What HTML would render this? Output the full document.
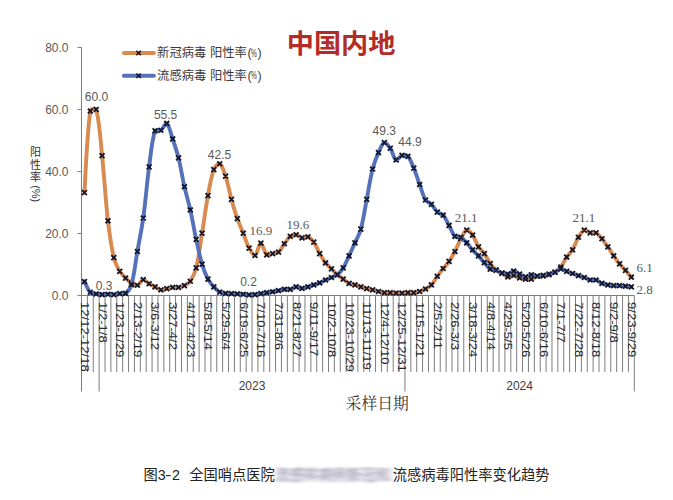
<!DOCTYPE html>
<html><head><meta charset="utf-8"><title>chart</title>
<style>
html,body{margin:0;padding:0;background:#fff;}
body{width:673px;height:500px;overflow:hidden;position:relative;}
svg{position:absolute;left:0;top:0;}
.cap{position:absolute;left:143.6px;top:463px;font:14.25px "Liberation Sans","Noto Sans CJK SC",sans-serif;color:#222;white-space:nowrap;letter-spacing:0px;}
.blur{display:inline-block;width:118px;overflow:visible;filter:url(#hb);color:#7c7494;letter-spacing:0.3px;white-space:nowrap;}
</style></head><body>
<svg width="673" height="500" viewBox="0 0 673 500">
<text x="286.8" y="52.6" font-family="Liberation Sans, Noto Sans CJK SC, sans-serif" font-weight="bold" font-size="26.5" fill="#B42C28" textLength="108.6" lengthAdjust="spacingAndGlyphs">中国内地</text>
<line x1="123.9" y1="53.0" x2="153.9" y2="53.0" stroke="#D98A50" stroke-width="3.9" stroke-linecap="round"/>
<path d="M136.4 50.8L140.8 55.2M136.4 55.2L140.8 50.8" stroke="#14162a" stroke-width="1.6" fill="none"/>
<text x="157.1" y="57.4" font-family="Liberation Sans, Noto Sans CJK SC, sans-serif" font-size="12.3" fill="#3a3a3a">新冠病毒<tspan dx="3.6">阳性率</tspan></text>
<text x="247.4" y="56.7" font-family="Liberation Sans, sans-serif" font-size="12.3" fill="#3a3a3a">(</text><text x="257.6" y="56.7" font-family="Liberation Sans, sans-serif" font-size="12.3" fill="#3a3a3a">)</text>
<text transform="translate(251.0,56.6) scale(0.6,1)" font-family="Liberation Sans, sans-serif" font-size="11" fill="#3a3a3a">%</text>
<line x1="123.9" y1="75.8" x2="153.9" y2="75.8" stroke="#5571B9" stroke-width="3.9" stroke-linecap="round"/>
<path d="M136.4 73.6L140.8 78.0M136.4 78.0L140.8 73.6" stroke="#14162a" stroke-width="1.6" fill="none"/>
<text x="157.1" y="80.2" font-family="Liberation Sans, Noto Sans CJK SC, sans-serif" font-size="12.3" fill="#3a3a3a">流感病毒<tspan dx="3.6">阳性率</tspan></text>
<text x="247.4" y="79.5" font-family="Liberation Sans, sans-serif" font-size="12.3" fill="#3a3a3a">(</text><text x="257.6" y="79.5" font-family="Liberation Sans, sans-serif" font-size="12.3" fill="#3a3a3a">)</text>
<text transform="translate(251.0,79.4) scale(0.6,1)" font-family="Liberation Sans, sans-serif" font-size="11" fill="#3a3a3a">%</text>
<g stroke="#7d7d7d" stroke-width="1" fill="none"><line x1="81.5" y1="47.5" x2="81.5" y2="391.5"/><line x1="77.5" y1="295.5" x2="81.5" y2="295.5"/><line x1="77.5" y1="233.5" x2="81.5" y2="233.5"/><line x1="77.5" y1="171.5" x2="81.5" y2="171.5"/><line x1="77.5" y1="109.5" x2="81.5" y2="109.5"/><line x1="77.5" y1="47.5" x2="81.5" y2="47.5"/><line x1="81.5" y1="295.5" x2="634.3" y2="295.5"/><line x1="87.38" y1="295.5" x2="87.38" y2="372.0"/><line x1="93.26" y1="295.5" x2="93.26" y2="372.0"/><line x1="99.14" y1="295.5" x2="99.14" y2="391.5"/><line x1="105.02" y1="295.5" x2="105.02" y2="372.0"/><line x1="110.90" y1="295.5" x2="110.90" y2="372.0"/><line x1="116.79" y1="295.5" x2="116.79" y2="372.0"/><line x1="122.67" y1="295.5" x2="122.67" y2="372.0"/><line x1="128.55" y1="295.5" x2="128.55" y2="372.0"/><line x1="134.43" y1="295.5" x2="134.43" y2="372.0"/><line x1="140.31" y1="295.5" x2="140.31" y2="372.0"/><line x1="146.19" y1="295.5" x2="146.19" y2="372.0"/><line x1="152.07" y1="295.5" x2="152.07" y2="372.0"/><line x1="157.95" y1="295.5" x2="157.95" y2="372.0"/><line x1="163.83" y1="295.5" x2="163.83" y2="372.0"/><line x1="169.71" y1="295.5" x2="169.71" y2="372.0"/><line x1="175.59" y1="295.5" x2="175.59" y2="372.0"/><line x1="181.47" y1="295.5" x2="181.47" y2="372.0"/><line x1="187.36" y1="295.5" x2="187.36" y2="372.0"/><line x1="193.24" y1="295.5" x2="193.24" y2="372.0"/><line x1="199.12" y1="295.5" x2="199.12" y2="372.0"/><line x1="205.00" y1="295.5" x2="205.00" y2="372.0"/><line x1="210.88" y1="295.5" x2="210.88" y2="372.0"/><line x1="216.76" y1="295.5" x2="216.76" y2="372.0"/><line x1="222.64" y1="295.5" x2="222.64" y2="372.0"/><line x1="228.52" y1="295.5" x2="228.52" y2="372.0"/><line x1="234.40" y1="295.5" x2="234.40" y2="372.0"/><line x1="240.28" y1="295.5" x2="240.28" y2="372.0"/><line x1="246.16" y1="295.5" x2="246.16" y2="372.0"/><line x1="252.04" y1="295.5" x2="252.04" y2="372.0"/><line x1="257.93" y1="295.5" x2="257.93" y2="372.0"/><line x1="263.81" y1="295.5" x2="263.81" y2="372.0"/><line x1="269.69" y1="295.5" x2="269.69" y2="372.0"/><line x1="275.57" y1="295.5" x2="275.57" y2="372.0"/><line x1="281.45" y1="295.5" x2="281.45" y2="372.0"/><line x1="287.33" y1="295.5" x2="287.33" y2="372.0"/><line x1="293.21" y1="295.5" x2="293.21" y2="372.0"/><line x1="299.09" y1="295.5" x2="299.09" y2="372.0"/><line x1="304.97" y1="295.5" x2="304.97" y2="372.0"/><line x1="310.85" y1="295.5" x2="310.85" y2="372.0"/><line x1="316.73" y1="295.5" x2="316.73" y2="372.0"/><line x1="322.61" y1="295.5" x2="322.61" y2="372.0"/><line x1="328.50" y1="295.5" x2="328.50" y2="372.0"/><line x1="334.38" y1="295.5" x2="334.38" y2="372.0"/><line x1="340.26" y1="295.5" x2="340.26" y2="372.0"/><line x1="346.14" y1="295.5" x2="346.14" y2="372.0"/><line x1="352.02" y1="295.5" x2="352.02" y2="372.0"/><line x1="357.90" y1="295.5" x2="357.90" y2="372.0"/><line x1="363.78" y1="295.5" x2="363.78" y2="372.0"/><line x1="369.66" y1="295.5" x2="369.66" y2="372.0"/><line x1="375.54" y1="295.5" x2="375.54" y2="372.0"/><line x1="381.42" y1="295.5" x2="381.42" y2="372.0"/><line x1="387.30" y1="295.5" x2="387.30" y2="372.0"/><line x1="393.19" y1="295.5" x2="393.19" y2="372.0"/><line x1="399.07" y1="295.5" x2="399.07" y2="372.0"/><line x1="404.95" y1="295.5" x2="404.95" y2="391.5"/><line x1="410.83" y1="295.5" x2="410.83" y2="372.0"/><line x1="416.71" y1="295.5" x2="416.71" y2="372.0"/><line x1="422.59" y1="295.5" x2="422.59" y2="372.0"/><line x1="428.47" y1="295.5" x2="428.47" y2="372.0"/><line x1="434.35" y1="295.5" x2="434.35" y2="372.0"/><line x1="440.23" y1="295.5" x2="440.23" y2="372.0"/><line x1="446.11" y1="295.5" x2="446.11" y2="372.0"/><line x1="451.99" y1="295.5" x2="451.99" y2="372.0"/><line x1="457.87" y1="295.5" x2="457.87" y2="372.0"/><line x1="463.76" y1="295.5" x2="463.76" y2="372.0"/><line x1="469.64" y1="295.5" x2="469.64" y2="372.0"/><line x1="475.52" y1="295.5" x2="475.52" y2="372.0"/><line x1="481.40" y1="295.5" x2="481.40" y2="372.0"/><line x1="487.28" y1="295.5" x2="487.28" y2="372.0"/><line x1="493.16" y1="295.5" x2="493.16" y2="372.0"/><line x1="499.04" y1="295.5" x2="499.04" y2="372.0"/><line x1="504.92" y1="295.5" x2="504.92" y2="372.0"/><line x1="510.80" y1="295.5" x2="510.80" y2="372.0"/><line x1="516.68" y1="295.5" x2="516.68" y2="372.0"/><line x1="522.56" y1="295.5" x2="522.56" y2="372.0"/><line x1="528.44" y1="295.5" x2="528.44" y2="372.0"/><line x1="534.33" y1="295.5" x2="534.33" y2="372.0"/><line x1="540.21" y1="295.5" x2="540.21" y2="372.0"/><line x1="546.09" y1="295.5" x2="546.09" y2="372.0"/><line x1="551.97" y1="295.5" x2="551.97" y2="372.0"/><line x1="557.85" y1="295.5" x2="557.85" y2="372.0"/><line x1="563.73" y1="295.5" x2="563.73" y2="372.0"/><line x1="569.61" y1="295.5" x2="569.61" y2="372.0"/><line x1="575.49" y1="295.5" x2="575.49" y2="372.0"/><line x1="581.37" y1="295.5" x2="581.37" y2="372.0"/><line x1="587.25" y1="295.5" x2="587.25" y2="372.0"/><line x1="593.13" y1="295.5" x2="593.13" y2="372.0"/><line x1="599.01" y1="295.5" x2="599.01" y2="372.0"/><line x1="604.90" y1="295.5" x2="604.90" y2="372.0"/><line x1="610.78" y1="295.5" x2="610.78" y2="372.0"/><line x1="616.66" y1="295.5" x2="616.66" y2="372.0"/><line x1="622.54" y1="295.5" x2="622.54" y2="372.0"/><line x1="628.42" y1="295.5" x2="628.42" y2="372.0"/><line x1="634.30" y1="295.5" x2="634.30" y2="391.5"/></g>
<g font-family="Liberation Sans, sans-serif" font-size="12" fill="#595959" text-anchor="end"><text x="68.5" y="299.8">0.0</text><text x="68.5" y="237.8">20.0</text><text x="68.5" y="175.8">40.0</text><text x="68.5" y="113.8">60.0</text><text x="68.5" y="51.8">80.0</text></g>
<g font-family="Liberation Sans, Noto Sans CJK SC, sans-serif" font-size="11" fill="#333333" text-anchor="middle"><text x="35.6" y="156.0">阳</text><text x="35.6" y="168.7">性</text><text x="35.6" y="181.4">率</text><text transform="translate(31.6,193.7) rotate(90)" text-anchor="middle">(%)</text></g>
<g font-family="Liberation Sans, sans-serif" font-size="12" fill="#2a2a2a"><text transform="translate(84.44,302.0) rotate(90) scale(1.09,0.85)" x="0" y="0" dy="0.35em">12/12-12/18</text><text transform="translate(102.08,302.0) rotate(90) scale(1.09,0.85)" x="0" y="0" dy="0.35em">1/2-1/8</text><text transform="translate(119.73,302.0) rotate(90) scale(1.09,0.85)" x="0" y="0" dy="0.35em">1/23-1/29</text><text transform="translate(137.37,302.0) rotate(90) scale(1.09,0.85)" x="0" y="0" dy="0.35em">2/13-2/19</text><text transform="translate(155.01,302.0) rotate(90) scale(1.09,0.85)" x="0" y="0" dy="0.35em">3/6-3/12</text><text transform="translate(172.65,302.0) rotate(90) scale(1.09,0.85)" x="0" y="0" dy="0.35em">3/27-4/2</text><text transform="translate(190.30,302.0) rotate(90) scale(1.09,0.85)" x="0" y="0" dy="0.35em">4/17-4/23</text><text transform="translate(207.94,302.0) rotate(90) scale(1.09,0.85)" x="0" y="0" dy="0.35em">5/8-5/14</text><text transform="translate(225.58,302.0) rotate(90) scale(1.09,0.85)" x="0" y="0" dy="0.35em">5/29-6/4</text><text transform="translate(243.22,302.0) rotate(90) scale(1.09,0.85)" x="0" y="0" dy="0.35em">6/19-6/25</text><text transform="translate(260.87,302.0) rotate(90) scale(1.09,0.85)" x="0" y="0" dy="0.35em">7/10-7/16</text><text transform="translate(278.51,302.0) rotate(90) scale(1.09,0.85)" x="0" y="0" dy="0.35em">7/31-8/6</text><text transform="translate(296.15,302.0) rotate(90) scale(1.09,0.85)" x="0" y="0" dy="0.35em">8/21-8/27</text><text transform="translate(313.79,302.0) rotate(90) scale(1.09,0.85)" x="0" y="0" dy="0.35em">9/11-9/17</text><text transform="translate(331.44,302.0) rotate(90) scale(1.09,0.85)" x="0" y="0" dy="0.35em">10/2-10/8</text><text transform="translate(349.08,302.0) rotate(90) scale(1.09,0.85)" x="0" y="0" dy="0.35em">10/23-10/29</text><text transform="translate(366.72,302.0) rotate(90) scale(1.09,0.85)" x="0" y="0" dy="0.35em">11/13-11/19</text><text transform="translate(384.36,302.0) rotate(90) scale(1.09,0.85)" x="0" y="0" dy="0.35em">12/4-12/10</text><text transform="translate(402.01,302.0) rotate(90) scale(1.09,0.85)" x="0" y="0" dy="0.35em">12/25-12/31</text><text transform="translate(419.65,302.0) rotate(90) scale(1.09,0.85)" x="0" y="0" dy="0.35em">1/15-1/21</text><text transform="translate(437.29,302.0) rotate(90) scale(1.09,0.85)" x="0" y="0" dy="0.35em">2/5-2/11</text><text transform="translate(454.93,302.0) rotate(90) scale(1.09,0.85)" x="0" y="0" dy="0.35em">2/26-3/3</text><text transform="translate(472.58,302.0) rotate(90) scale(1.09,0.85)" x="0" y="0" dy="0.35em">3/18-3/24</text><text transform="translate(490.22,302.0) rotate(90) scale(1.09,0.85)" x="0" y="0" dy="0.35em">4/8-4/14</text><text transform="translate(507.86,302.0) rotate(90) scale(1.09,0.85)" x="0" y="0" dy="0.35em">4/29-5/5</text><text transform="translate(525.50,302.0) rotate(90) scale(1.09,0.85)" x="0" y="0" dy="0.35em">5/20-5/26</text><text transform="translate(543.15,302.0) rotate(90) scale(1.09,0.85)" x="0" y="0" dy="0.35em">6/10-6/16</text><text transform="translate(560.79,302.0) rotate(90) scale(1.09,0.85)" x="0" y="0" dy="0.35em">7/1-7/7</text><text transform="translate(578.43,302.0) rotate(90) scale(1.09,0.85)" x="0" y="0" dy="0.35em">7/22-7/28</text><text transform="translate(596.07,302.0) rotate(90) scale(1.09,0.85)" x="0" y="0" dy="0.35em">8/12-8/18</text><text transform="translate(613.72,302.0) rotate(90) scale(1.09,0.85)" x="0" y="0" dy="0.35em">9/2-9/8</text><text transform="translate(631.36,302.0) rotate(90) scale(1.09,0.85)" x="0" y="0" dy="0.35em">9/23-9/29</text></g>
<g font-family="Liberation Sans, sans-serif" font-size="12" fill="#404040" text-anchor="middle"><text x="252.0" y="389.5">2023</text><text x="519.6" y="389.5">2024</text></g>
<text x="345.6" y="409.2" font-family="Liberation Serif, Noto Serif CJK SC, serif" font-size="15.8" fill="#333">采样日期</text>
<path d="M84.44 192.58 C85.42 178.99 86.67 136.83 90.32 111.05 C90.59 109.13 95.75 107.78 96.20 109.50 C99.67 122.66 100.45 140.26 102.08 155.69 C104.37 177.35 105.47 199.16 107.96 220.79 C109.39 233.15 111.04 245.63 113.84 257.68 C114.96 262.47 117.28 267.07 119.73 271.32 C121.21 273.89 123.49 276.02 125.61 278.14 C127.41 279.95 129.33 281.79 131.49 283.10 C133.25 284.17 135.66 285.77 137.37 285.27 C139.58 284.63 141.16 279.96 143.25 279.69 C145.08 279.45 147.10 282.49 149.13 283.72 C151.02 284.87 153.05 285.79 155.01 286.82 C156.97 287.85 158.83 289.59 160.89 289.92 C162.75 290.21 164.81 289.09 166.77 288.68 C168.73 288.27 170.67 287.65 172.65 287.44 C174.59 287.24 176.62 287.74 178.53 287.44 C180.54 287.12 182.62 286.53 184.41 285.58 C186.54 284.46 188.99 283.21 190.30 281.24 C192.91 277.32 195.03 272.60 196.18 267.91 C198.95 256.58 200.17 244.78 202.06 233.19 C204.09 220.70 205.64 208.12 207.94 195.68 C209.56 186.93 210.83 177.75 213.82 169.64 C214.75 167.11 218.22 162.93 219.70 163.75 C222.14 165.10 224.15 171.82 225.58 176.15 C228.07 183.71 229.33 191.70 231.46 199.40 C233.25 205.85 235.14 212.30 237.34 218.62 C239.06 223.56 241.28 228.33 243.22 233.19 C245.20 238.14 246.64 243.40 249.10 248.07 C250.56 250.84 253.38 256.19 254.99 255.51 C257.30 254.53 258.87 243.22 260.87 243.11 C262.79 243.01 264.05 252.48 266.75 254.89 C267.98 255.99 270.68 254.11 272.63 253.65 C274.60 253.18 277.05 253.33 278.51 252.10 C280.97 250.03 282.35 246.46 284.39 243.73 C286.28 241.19 287.88 238.12 290.27 236.29 C291.80 235.12 294.28 234.49 296.15 234.74 C298.20 235.01 299.96 237.46 302.03 237.84 C303.88 238.18 306.23 236.29 307.91 236.91 C310.15 237.73 312.30 240.06 313.79 242.18 C316.22 245.64 317.56 249.92 319.67 253.65 C321.48 256.84 323.32 260.07 325.56 262.95 C327.24 265.13 329.48 266.88 331.44 268.84 C333.40 270.80 335.23 272.91 337.32 274.73 C339.15 276.32 341.24 277.62 343.20 279.07 C345.16 280.52 346.94 282.34 349.08 283.41 C350.86 284.30 353.01 284.40 354.96 284.96 C356.93 285.53 358.88 286.20 360.84 286.82 C362.80 287.44 364.74 288.16 366.72 288.68 C368.66 289.19 370.65 289.46 372.60 289.92 C374.57 290.39 376.51 291.00 378.48 291.47 C380.43 291.93 382.38 292.50 384.36 292.71 C386.30 292.91 388.29 292.66 390.24 292.71 C392.21 292.76 394.16 292.97 396.13 293.02 C398.08 293.07 400.05 293.07 402.01 293.02 C403.97 292.97 405.93 292.76 407.89 292.71 C409.85 292.66 411.83 292.91 413.77 292.71 C415.75 292.50 417.75 292.07 419.65 291.47 C421.67 290.83 423.68 290.02 425.53 288.99 C427.60 287.85 429.82 286.67 431.41 284.96 C433.74 282.44 435.26 279.12 437.29 276.28 C439.18 273.64 441.16 271.07 443.17 268.53 C445.08 266.11 447.31 263.93 449.05 261.40 C451.23 258.25 453.16 254.89 454.93 251.48 C457.08 247.34 458.57 242.85 460.81 238.77 C462.49 235.72 464.43 230.81 466.70 230.09 C468.36 229.57 471.13 232.99 472.58 235.05 C475.05 238.57 476.13 243.15 478.46 246.83 C480.05 249.35 482.62 251.20 484.34 253.65 C486.54 256.78 487.99 260.46 490.22 263.57 C491.91 265.94 493.87 268.26 496.10 270.08 C497.79 271.46 500.07 272.07 501.98 273.18 C503.99 274.34 505.77 276.51 507.86 276.90 C509.69 277.24 511.83 275.20 513.74 275.35 C515.75 275.51 517.60 277.19 519.62 277.83 C521.52 278.43 523.52 278.86 525.50 279.07 C527.44 279.27 529.52 279.51 531.39 279.07 C533.44 278.58 535.21 276.82 537.27 276.28 C539.13 275.79 541.21 276.23 543.15 275.97 C545.13 275.71 547.13 275.33 549.03 274.73 C551.05 274.09 553.16 273.40 554.91 272.25 C557.08 270.82 559.20 269.04 560.79 266.98 C563.12 263.97 564.49 260.21 566.67 257.06 C568.41 254.53 570.99 252.56 572.55 249.93 C574.91 245.95 576.07 241.20 578.43 237.22 C579.99 234.59 582.01 230.94 584.31 230.09 C585.93 229.49 588.13 232.39 590.19 232.88 C592.05 233.32 594.45 232.07 596.07 232.88 C598.37 234.03 600.17 236.66 601.96 238.77 C604.09 241.31 605.95 244.09 607.84 246.83 C609.87 249.78 611.68 252.87 613.72 255.82 C615.60 258.56 617.51 261.30 619.60 263.88 C621.43 266.15 623.54 268.20 625.48 270.39 C627.46 272.64 630.38 276.07 631.36 277.21" stroke="#D98A50" stroke-width="3.9" fill="none" stroke-linejoin="round" stroke-linecap="round"/>
<path d="M81.99 190.13L86.89 195.03M81.99 195.03L86.89 190.13M87.87 108.60L92.77 113.50M87.87 113.50L92.77 108.60M93.75 107.05L98.65 111.95M93.75 111.95L98.65 107.05M99.63 153.24L104.53 158.14M99.63 158.14L104.53 153.24M105.51 218.34L110.41 223.24M105.51 223.24L110.41 218.34M111.39 255.23L116.29 260.13M111.39 260.13L116.29 255.23M117.28 268.87L122.18 273.77M117.28 273.77L122.18 268.87M123.16 275.69L128.06 280.59M123.16 280.59L128.06 275.69M129.04 280.65L133.94 285.55M129.04 285.55L133.94 280.65M134.92 282.82L139.82 287.72M134.92 287.72L139.82 282.82M140.80 277.24L145.70 282.14M140.80 282.14L145.70 277.24M146.68 281.27L151.58 286.17M146.68 286.17L151.58 281.27M152.56 284.37L157.46 289.27M152.56 289.27L157.46 284.37M158.44 287.47L163.34 292.37M158.44 292.37L163.34 287.47M164.32 286.23L169.22 291.13M164.32 291.13L169.22 286.23M170.20 284.99L175.10 289.89M170.20 289.89L175.10 284.99M176.08 284.99L180.98 289.89M176.08 289.89L180.98 284.99M181.96 283.13L186.86 288.03M181.96 288.03L186.86 283.13M187.85 278.79L192.75 283.69M187.85 283.69L192.75 278.79M193.73 265.46L198.63 270.36M193.73 270.36L198.63 265.46M199.61 230.74L204.51 235.64M199.61 235.64L204.51 230.74M205.49 193.23L210.39 198.13M205.49 198.13L210.39 193.23M211.37 167.19L216.27 172.09M211.37 172.09L216.27 167.19M217.25 161.30L222.15 166.20M217.25 166.20L222.15 161.30M223.13 173.70L228.03 178.60M223.13 178.60L228.03 173.70M229.01 196.95L233.91 201.85M229.01 201.85L233.91 196.95M234.89 216.17L239.79 221.07M234.89 221.07L239.79 216.17M240.77 230.74L245.67 235.64M240.77 235.64L245.67 230.74M246.65 245.62L251.55 250.52M246.65 250.52L251.55 245.62M252.54 253.06L257.44 257.96M252.54 257.96L257.44 253.06M258.42 240.66L263.32 245.56M258.42 245.56L263.32 240.66M264.30 252.44L269.20 257.34M264.30 257.34L269.20 252.44M270.18 251.20L275.08 256.10M270.18 256.10L275.08 251.20M276.06 249.65L280.96 254.55M276.06 254.55L280.96 249.65M281.94 241.28L286.84 246.18M281.94 246.18L286.84 241.28M287.82 233.84L292.72 238.74M287.82 238.74L292.72 233.84M293.70 232.29L298.60 237.19M293.70 237.19L298.60 232.29M299.58 235.39L304.48 240.29M299.58 240.29L304.48 235.39M305.46 234.46L310.36 239.36M305.46 239.36L310.36 234.46M311.34 239.73L316.24 244.63M311.34 244.63L316.24 239.73M317.22 251.20L322.12 256.10M317.22 256.10L322.12 251.20M323.11 260.50L328.01 265.40M323.11 265.40L328.01 260.50M328.99 266.39L333.89 271.29M328.99 271.29L333.89 266.39M334.87 272.28L339.77 277.18M334.87 277.18L339.77 272.28M340.75 276.62L345.65 281.52M340.75 281.52L345.65 276.62M346.63 280.96L351.53 285.86M346.63 285.86L351.53 280.96M352.51 282.51L357.41 287.41M352.51 287.41L357.41 282.51M358.39 284.37L363.29 289.27M358.39 289.27L363.29 284.37M364.27 286.23L369.17 291.13M364.27 291.13L369.17 286.23M370.15 287.47L375.05 292.37M370.15 292.37L375.05 287.47M376.03 289.02L380.93 293.92M376.03 293.92L380.93 289.02M381.91 290.26L386.81 295.16M381.91 295.16L386.81 290.26M387.79 290.26L392.69 295.16M387.79 295.16L392.69 290.26M393.68 290.57L398.58 295.47M393.68 295.47L398.58 290.57M399.56 290.57L404.46 295.47M399.56 295.47L404.46 290.57M405.44 290.26L410.34 295.16M405.44 295.16L410.34 290.26M411.32 290.26L416.22 295.16M411.32 295.16L416.22 290.26M417.20 289.02L422.10 293.92M417.20 293.92L422.10 289.02M423.08 286.54L427.98 291.44M423.08 291.44L427.98 286.54M428.96 282.51L433.86 287.41M428.96 287.41L433.86 282.51M434.84 273.83L439.74 278.73M434.84 278.73L439.74 273.83M440.72 266.08L445.62 270.98M440.72 270.98L445.62 266.08M446.60 258.95L451.50 263.85M446.60 263.85L451.50 258.95M452.48 249.03L457.38 253.93M452.48 253.93L457.38 249.03M458.36 236.32L463.26 241.22M458.36 241.22L463.26 236.32M464.25 227.64L469.15 232.54M464.25 232.54L469.15 227.64M470.13 232.60L475.03 237.50M470.13 237.50L475.03 232.60M476.01 244.38L480.91 249.28M476.01 249.28L480.91 244.38M481.89 251.20L486.79 256.10M481.89 256.10L486.79 251.20M487.77 261.12L492.67 266.02M487.77 266.02L492.67 261.12M493.65 267.63L498.55 272.53M493.65 272.53L498.55 267.63M499.53 270.73L504.43 275.63M499.53 275.63L504.43 270.73M505.41 274.45L510.31 279.35M505.41 279.35L510.31 274.45M511.29 272.90L516.19 277.80M511.29 277.80L516.19 272.90M517.17 275.38L522.07 280.28M517.17 280.28L522.07 275.38M523.05 276.62L527.95 281.52M523.05 281.52L527.95 276.62M528.94 276.62L533.84 281.52M528.94 281.52L533.84 276.62M534.82 273.83L539.72 278.73M534.82 278.73L539.72 273.83M540.70 273.52L545.60 278.42M540.70 278.42L545.60 273.52M546.58 272.28L551.48 277.18M546.58 277.18L551.48 272.28M552.46 269.80L557.36 274.70M552.46 274.70L557.36 269.80M558.34 264.53L563.24 269.43M558.34 269.43L563.24 264.53M564.22 254.61L569.12 259.51M564.22 259.51L569.12 254.61M570.10 247.48L575.00 252.38M570.10 252.38L575.00 247.48M575.98 234.77L580.88 239.67M575.98 239.67L580.88 234.77M581.86 227.64L586.76 232.54M581.86 232.54L586.76 227.64M587.74 230.43L592.64 235.33M587.74 235.33L592.64 230.43M593.62 230.43L598.52 235.33M593.62 235.33L598.52 230.43M599.51 236.32L604.41 241.22M599.51 241.22L604.41 236.32M605.39 244.38L610.29 249.28M605.39 249.28L610.29 244.38M611.27 253.37L616.17 258.27M611.27 258.27L616.17 253.37M617.15 261.43L622.05 266.33M617.15 266.33L622.05 261.43M623.03 267.94L627.93 272.84M623.03 272.84L627.93 267.94M628.91 274.76L633.81 279.66M628.91 279.66L633.81 274.76" stroke="#14162a" stroke-width="1.8" fill="none"/>
<path d="M84.44 281.55 C85.42 283.36 87.69 289.63 90.32 292.40 C91.62 293.76 94.21 293.58 96.20 293.95 C98.13 294.31 100.12 294.52 102.08 294.57 C104.04 294.62 106.00 294.26 107.96 294.26 C109.92 294.26 111.90 294.67 113.84 294.57 C115.82 294.47 117.75 293.85 119.73 293.64 C121.68 293.43 124.20 294.41 125.61 293.33 C128.12 291.41 130.56 287.96 131.49 284.65 C134.48 274.01 135.42 262.54 137.37 251.48 C139.34 240.32 141.69 229.22 143.25 218.00 C145.61 201.01 146.83 183.85 149.13 166.85 C150.75 154.82 151.64 141.38 155.01 130.89 C155.56 129.19 159.34 131.25 160.89 130.27 C163.26 128.77 165.39 122.43 166.77 123.45 C169.31 125.32 170.87 133.72 172.65 138.95 C174.79 145.19 176.96 151.46 178.53 157.86 C180.88 167.37 182.25 177.13 184.41 186.69 C186.18 194.49 188.56 202.14 190.30 209.94 C192.48 219.71 194.06 229.61 196.18 239.39 C197.98 247.69 199.65 256.06 202.06 264.19 C203.57 269.29 205.50 274.38 207.94 279.07 C209.42 281.92 211.66 284.42 213.82 286.82 C215.58 288.76 217.47 290.86 219.70 292.09 C221.39 293.03 223.60 293.07 225.58 293.33 C227.52 293.59 229.50 293.54 231.46 293.64 C233.42 293.74 235.38 293.85 237.34 293.95 C239.30 294.05 241.27 294.11 243.22 294.26 C245.19 294.42 247.14 294.83 249.10 294.88 C251.06 294.93 253.04 294.78 254.99 294.57 C256.96 294.36 258.91 293.95 260.87 293.64 C262.83 293.33 264.79 293.02 266.75 292.71 C268.71 292.40 270.68 292.14 272.63 291.78 C274.60 291.42 276.55 290.95 278.51 290.54 C280.47 290.13 282.41 289.51 284.39 289.30 C286.33 289.10 288.39 289.70 290.27 289.30 C292.31 288.87 294.14 286.98 296.15 286.82 C298.06 286.67 300.07 288.37 302.03 288.37 C303.99 288.37 305.97 287.38 307.91 286.82 C309.89 286.25 311.85 285.63 313.79 284.96 C315.77 284.28 317.75 283.60 319.67 282.79 C321.67 281.95 323.58 280.89 325.56 280.00 C327.50 279.13 329.50 278.39 331.44 277.52 C333.42 276.63 335.67 276.07 337.32 274.73 C339.59 272.87 341.63 270.44 343.20 267.91 C345.55 264.14 347.18 259.88 349.08 255.82 C351.10 251.51 353.04 247.16 354.96 242.80 C356.96 238.27 359.55 233.92 360.84 229.16 C363.47 219.45 364.78 209.32 366.72 199.40 C368.70 189.28 370.10 179.00 372.60 169.02 C374.02 163.39 376.12 157.88 378.48 152.59 C380.04 149.10 382.06 143.52 384.36 142.67 C385.98 142.07 388.75 146.04 390.24 148.25 C392.67 151.83 393.63 158.52 396.13 160.03 C397.55 160.89 399.82 156.07 402.01 155.38 C403.74 154.83 406.67 154.99 407.89 156.31 C410.59 159.23 412.08 164.05 413.77 168.09 C416.00 173.45 417.64 179.06 419.65 184.52 C421.56 189.71 422.81 195.43 425.53 200.02 C426.73 202.04 429.73 202.63 431.41 204.36 C433.65 206.66 434.96 209.96 437.29 212.11 C438.88 213.58 441.76 213.61 443.17 215.21 C445.68 218.05 447.14 222.01 449.05 225.44 C451.06 229.03 452.29 233.64 454.93 236.29 C456.21 237.57 459.15 236.30 460.81 237.22 C463.08 238.47 464.86 240.82 466.70 242.80 C468.78 245.06 470.51 247.65 472.58 249.93 C474.43 251.99 476.57 253.79 478.46 255.82 C480.49 258.02 482.35 260.39 484.34 262.64 C486.27 264.83 487.88 267.67 490.22 269.15 C491.80 270.15 494.25 269.45 496.10 270.08 C498.17 270.79 499.91 272.47 501.98 273.18 C503.83 273.81 506.01 274.45 507.86 274.11 C509.93 273.73 511.78 271.01 513.74 271.01 C515.70 271.01 517.64 273.12 519.62 274.11 C521.56 275.08 523.51 276.79 525.50 276.90 C527.43 277.00 529.38 274.89 531.39 274.73 C533.30 274.58 535.29 275.87 537.27 275.97 C539.21 276.07 541.20 275.66 543.15 275.35 C545.12 275.04 547.09 274.62 549.03 274.11 C551.01 273.59 553.04 273.09 554.91 272.25 C556.96 271.33 558.77 269.00 560.79 268.84 C562.69 268.69 564.69 270.54 566.67 271.32 C568.61 272.09 570.59 272.77 572.55 273.49 C574.51 274.21 576.46 274.98 578.43 275.66 C580.38 276.33 582.39 276.81 584.31 277.52 C586.31 278.26 588.15 279.57 590.19 280.00 C592.07 280.40 594.26 279.47 596.07 280.00 C598.18 280.61 599.89 282.54 601.96 283.41 C603.81 284.19 605.85 284.59 607.84 284.96 C609.77 285.32 611.75 285.48 613.72 285.58 C615.67 285.68 617.64 285.48 619.60 285.58 C621.56 285.68 623.52 285.99 625.48 286.20 C627.44 286.41 630.38 286.72 631.36 286.82" stroke="#5571B9" stroke-width="3.9" fill="none" stroke-linejoin="round" stroke-linecap="round"/>
<path d="M81.99 279.10L86.89 284.00M81.99 284.00L86.89 279.10M87.87 289.95L92.77 294.85M87.87 294.85L92.77 289.95M93.75 291.50L98.65 296.40M93.75 296.40L98.65 291.50M99.63 292.12L104.53 297.02M99.63 297.02L104.53 292.12M105.51 291.81L110.41 296.71M105.51 296.71L110.41 291.81M111.39 292.12L116.29 297.02M111.39 297.02L116.29 292.12M117.28 291.19L122.18 296.09M117.28 296.09L122.18 291.19M123.16 290.88L128.06 295.78M123.16 295.78L128.06 290.88M129.04 282.20L133.94 287.10M129.04 287.10L133.94 282.20M134.92 249.03L139.82 253.93M134.92 253.93L139.82 249.03M140.80 215.55L145.70 220.45M140.80 220.45L145.70 215.55M146.68 164.40L151.58 169.30M146.68 169.30L151.58 164.40M152.56 128.44L157.46 133.34M152.56 133.34L157.46 128.44M158.44 127.82L163.34 132.72M158.44 132.72L163.34 127.82M164.32 121.00L169.22 125.90M164.32 125.90L169.22 121.00M170.20 136.50L175.10 141.40M170.20 141.40L175.10 136.50M176.08 155.41L180.98 160.31M176.08 160.31L180.98 155.41M181.96 184.24L186.86 189.14M181.96 189.14L186.86 184.24M187.85 207.49L192.75 212.39M187.85 212.39L192.75 207.49M193.73 236.94L198.63 241.84M193.73 241.84L198.63 236.94M199.61 261.74L204.51 266.64M199.61 266.64L204.51 261.74M205.49 276.62L210.39 281.52M205.49 281.52L210.39 276.62M211.37 284.37L216.27 289.27M211.37 289.27L216.27 284.37M217.25 289.64L222.15 294.54M217.25 294.54L222.15 289.64M223.13 290.88L228.03 295.78M223.13 295.78L228.03 290.88M229.01 291.19L233.91 296.09M229.01 296.09L233.91 291.19M234.89 291.50L239.79 296.40M234.89 296.40L239.79 291.50M240.77 291.81L245.67 296.71M240.77 296.71L245.67 291.81M246.65 292.43L251.55 297.33M246.65 297.33L251.55 292.43M252.54 292.12L257.44 297.02M252.54 297.02L257.44 292.12M258.42 291.19L263.32 296.09M258.42 296.09L263.32 291.19M264.30 290.26L269.20 295.16M264.30 295.16L269.20 290.26M270.18 289.33L275.08 294.23M270.18 294.23L275.08 289.33M276.06 288.09L280.96 292.99M276.06 292.99L280.96 288.09M281.94 286.85L286.84 291.75M281.94 291.75L286.84 286.85M287.82 286.85L292.72 291.75M287.82 291.75L292.72 286.85M293.70 284.37L298.60 289.27M293.70 289.27L298.60 284.37M299.58 285.92L304.48 290.82M299.58 290.82L304.48 285.92M305.46 284.37L310.36 289.27M305.46 289.27L310.36 284.37M311.34 282.51L316.24 287.41M311.34 287.41L316.24 282.51M317.22 280.34L322.12 285.24M317.22 285.24L322.12 280.34M323.11 277.55L328.01 282.45M323.11 282.45L328.01 277.55M328.99 275.07L333.89 279.97M328.99 279.97L333.89 275.07M334.87 272.28L339.77 277.18M334.87 277.18L339.77 272.28M340.75 265.46L345.65 270.36M340.75 270.36L345.65 265.46M346.63 253.37L351.53 258.27M346.63 258.27L351.53 253.37M352.51 240.35L357.41 245.25M352.51 245.25L357.41 240.35M358.39 226.71L363.29 231.61M358.39 231.61L363.29 226.71M364.27 196.95L369.17 201.85M364.27 201.85L369.17 196.95M370.15 166.57L375.05 171.47M370.15 171.47L375.05 166.57M376.03 150.14L380.93 155.04M376.03 155.04L380.93 150.14M381.91 140.22L386.81 145.12M381.91 145.12L386.81 140.22M387.79 145.80L392.69 150.70M387.79 150.70L392.69 145.80M393.68 157.58L398.58 162.48M393.68 162.48L398.58 157.58M399.56 152.93L404.46 157.83M399.56 157.83L404.46 152.93M405.44 153.86L410.34 158.76M405.44 158.76L410.34 153.86M411.32 165.64L416.22 170.54M411.32 170.54L416.22 165.64M417.20 182.07L422.10 186.97M417.20 186.97L422.10 182.07M423.08 197.57L427.98 202.47M423.08 202.47L427.98 197.57M428.96 201.91L433.86 206.81M428.96 206.81L433.86 201.91M434.84 209.66L439.74 214.56M434.84 214.56L439.74 209.66M440.72 212.76L445.62 217.66M440.72 217.66L445.62 212.76M446.60 222.99L451.50 227.89M446.60 227.89L451.50 222.99M452.48 233.84L457.38 238.74M452.48 238.74L457.38 233.84M458.36 234.77L463.26 239.67M458.36 239.67L463.26 234.77M464.25 240.35L469.15 245.25M464.25 245.25L469.15 240.35M470.13 247.48L475.03 252.38M470.13 252.38L475.03 247.48M476.01 253.37L480.91 258.27M476.01 258.27L480.91 253.37M481.89 260.19L486.79 265.09M481.89 265.09L486.79 260.19M487.77 266.70L492.67 271.60M487.77 271.60L492.67 266.70M493.65 267.63L498.55 272.53M493.65 272.53L498.55 267.63M499.53 270.73L504.43 275.63M499.53 275.63L504.43 270.73M505.41 271.66L510.31 276.56M505.41 276.56L510.31 271.66M511.29 268.56L516.19 273.46M511.29 273.46L516.19 268.56M517.17 271.66L522.07 276.56M517.17 276.56L522.07 271.66M523.05 274.45L527.95 279.35M523.05 279.35L527.95 274.45M528.94 272.28L533.84 277.18M528.94 277.18L533.84 272.28M534.82 273.52L539.72 278.42M534.82 278.42L539.72 273.52M540.70 272.90L545.60 277.80M540.70 277.80L545.60 272.90M546.58 271.66L551.48 276.56M546.58 276.56L551.48 271.66M552.46 269.80L557.36 274.70M552.46 274.70L557.36 269.80M558.34 266.39L563.24 271.29M558.34 271.29L563.24 266.39M564.22 268.87L569.12 273.77M564.22 273.77L569.12 268.87M570.10 271.04L575.00 275.94M570.10 275.94L575.00 271.04M575.98 273.21L580.88 278.11M575.98 278.11L580.88 273.21M581.86 275.07L586.76 279.97M581.86 279.97L586.76 275.07M587.74 277.55L592.64 282.45M587.74 282.45L592.64 277.55M593.62 277.55L598.52 282.45M593.62 282.45L598.52 277.55M599.51 280.96L604.41 285.86M599.51 285.86L604.41 280.96M605.39 282.51L610.29 287.41M605.39 287.41L610.29 282.51M611.27 283.13L616.17 288.03M611.27 288.03L616.17 283.13M617.15 283.13L622.05 288.03M617.15 288.03L622.05 283.13M623.03 283.75L627.93 288.65M623.03 288.65L627.93 283.75M628.91 284.37L633.81 289.27M628.91 289.27L633.81 284.37" stroke="#14162a" stroke-width="1.8" fill="none"/>
<g font-family="Liberation Sans, sans-serif" font-size="12" fill="#595959" text-anchor="middle"><text x="96.50" y="101.20">60.0</text><text x="165.60" y="118.60">55.5</text><text x="219.50" y="158.60">42.5</text><text x="104.00" y="289.50">0.3</text><text x="248.50" y="285.70">0.2</text><text x="384.30" y="134.70">49.3</text><text x="410.00" y="145.70">44.9</text></g>
<g font-family="Liberation Serif, serif" font-size="13" fill="#595959" text-anchor="middle"><text x="260.85" y="234.80">16.9</text><text x="297.75" y="228.50">19.6</text><text x="466.20" y="221.80">21.1</text><text x="583.75" y="221.80">21.1</text></g>
<g font-family="Liberation Serif, serif" font-size="13" fill="#595959"><text x="636.5" y="271.6">6.1</text><text x="636.5" y="294.1">2.8</text></g>
</svg>
<svg width="0" height="0" style="position:absolute"><filter id="hb" x="-20%" y="-60%" width="140%" height="220%"><feGaussianBlur stdDeviation="3.2 1.3"/></filter></svg>
<div class="cap">图3<span style="display:inline-block;transform:scaleX(1.3);margin:0 0.9px 0 0.6px">-</span>2<span style="display:inline-block;width:9.2px"></span>全国哨点医院<span class="blur">流感样病例新冠和</span>流感病毒阳性率变化趋势</div>
</body></html>
